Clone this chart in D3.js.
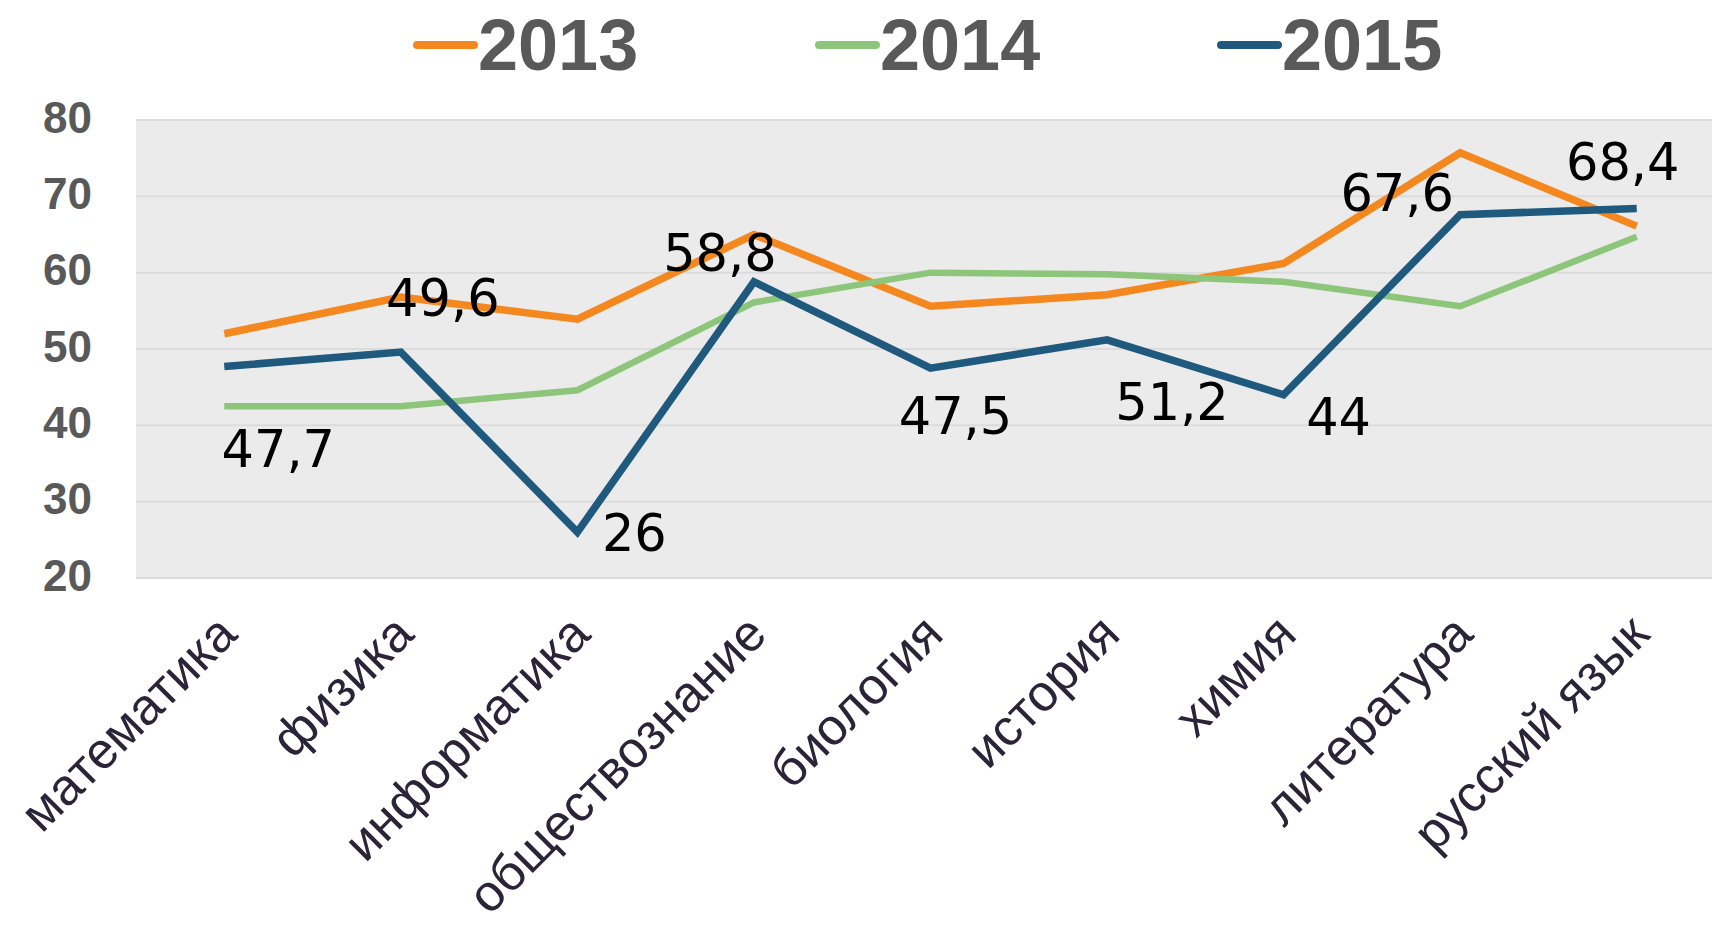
<!DOCTYPE html>
<html>
<head>
<meta charset="utf-8">
<script src="https://cdn.jsdelivr.net/npm/d3@7/dist/d3.min.js"></script>
<style>
	html, body { margin: 0; padding: 0; background: #fff; }
	svg { display: block; }
</style>
</head>
<body>
<svg id="chart"></svg>
<script>
// subjects on the x axis
var subjects = [ 'математика', 'физика', 'информатика', 'обществознание', 'биология', 'история', 'химия', 'литература', 'русский язык' ];
var years    = [ '2013', '2014', '2015' ];
// average score per subject
var v2013    = [ 52.0, 56.8, 53.9, 65.0, 55.6, 57.1, 61.2, 75.7, 66.1 ];
var v2014    = [ 42.5, 42.5, 44.6, 56.1, 60.0, 59.8, 58.8, 55.6, 64.7 ];
var v2015    = [ 47.7, 49.6, 26, 58.8, 47.5, 51.2, 44, 67.6, 68.4 ];
var yTicks   = [ 20, 30, 40, 50, 60, 70, 80 ];

var W = 1712, H = 932;
var CH = {
	  left   : 136
	, right  : 1725
	, top    : 120
	, bottom : 578
	, color  : {
		  '2013' : '#f5871f'
		, '2014' : '#8dc67b'
		, '2015' : '#1f5a7e'
	}
}
// data label nudges (px) for the 2015 series, relative to the point
var labelNudge = [ [ 54, 100 ], [ 42, -36 ], [ 57, 19 ], [ -34, -11 ], [ 25, 66 ], [ 65, 80 ], [ 55, 40 ], [ -63, -4 ], [ -14, -29 ] ];

var series = [
	  { year: '2013', values: v2013, width: 7.5 }
	, { year: '2014', values: v2014, width: 6.5 }
	, { year: '2015', values: v2015, width: 7.5 }
];

var svg = d3.select( '#chart' ).attr( 'width', W ).attr( 'height', H );

var x = d3.scalePoint()
			.domain( subjects )
			.range( [ CH.left, CH.right ] )
			.padding( 0.5 );
var y = d3.scaleLinear()
			.domain( [ 20, 80 ] )
			.range( [ CH.bottom, CH.top ] );

// plot background
svg.append( 'rect' )
	.attr( 'x', CH.left )
	.attr( 'y', CH.top )
	.attr( 'width', CH.right - CH.left )
	.attr( 'height', CH.bottom - CH.top )
	.attr( 'fill', '#ebebeb' );

// grid
svg.append( 'g' )
	.selectAll( 'line' )
	.data( yTicks )
	.join( 'line' )
	.attr( 'x1', CH.left )
	.attr( 'x2', CH.right )
	.attr( 'y1', d => y( d ) )
	.attr( 'y2', d => y( d ) )
	.attr( 'stroke', '#dcdcdc' )
	.attr( 'stroke-width', 2 );

// y axis
var yAxis = svg.append( 'g' )
	.attr( 'transform', 'translate(92,-2)' )
	.call( d3.axisLeft( y ).tickValues( yTicks ).tickSize( 0 ).tickPadding( 0 ) );
yAxis.select( '.domain' ).remove();
yAxis.selectAll( 'text' )
	.attr( 'font-family', '"Liberation Sans", Arial, sans-serif' )
	.attr( 'font-weight', 'bold' )
	.attr( 'font-size', 44 )
	.attr( 'fill', '#595959' );

// x axis labels (rotated)
var xAxis = svg.append( 'g' )
	.attr( 'transform', 'translate(0,' + CH.bottom + ')' )
	.call( d3.axisBottom( x ).tickSize( 0 ).tickPadding( 0 ) );
xAxis.select( '.domain' ).remove();
xAxis.selectAll( 'text' )
	.attr( 'font-family', '"Liberation Sans", Arial, sans-serif' )
	.attr( 'font-size', 51 )
	.attr( 'fill', '#2b2438' )
	.attr( 'text-anchor', 'end' )
	.attr( 'dy', '0.35em' )
	.attr( 'transform', 'translate(2,46) rotate(-45)' );

// lines
var line = d3.line()
	.x( ( d, i ) => x( subjects[ i ] ) )
	.y( d => y( d ) );
svg.append( 'g' )
	.selectAll( 'path' )
	.data( series )
	.join( 'path' )
	.attr( 'd', d => line( d.values ) )
	.attr( 'fill', 'none' )
	.attr( 'stroke', d => CH.color[ d.year ] )
	.attr( 'stroke-width', d => d.width )
	.attr( 'stroke-linejoin', 'miter' );

// data labels for 2015
svg.append( 'g' )
	.selectAll( 'text' )
	.data( v2015 )
	.join( 'text' )
	.attr( 'x', ( d, i ) => x( subjects[ i ] ) + labelNudge[ i ][ 0 ] )
	.attr( 'y', ( d, i ) => y( d ) + labelNudge[ i ][ 1 ] )
	.attr( 'text-anchor', 'middle' )
	.attr( 'font-family', '"DejaVu Sans", sans-serif' )
	.attr( 'font-size', 51 )
	.attr( 'fill', '#000' )
	.text( d => String( d ).replace( '.', ',' ) );

// legend
var legend = svg.append( 'g' )
	.selectAll( 'g' )
	.data( years )
	.join( 'g' )
	.attr( 'transform', ( d, i ) => 'translate(' + ( 417 + i * 402 ) + ',45)' );
legend.append( 'line' )
	.attr( 'x1', 0 )
	.attr( 'x2', 57 )
	.attr( 'stroke', d => CH.color[ d ] )
	.attr( 'stroke-width', 8 )
	.attr( 'stroke-linecap', 'round' );
legend.append( 'text' )
	.attr( 'x', 61 )
	.attr( 'y', 25 )
	.attr( 'font-family', '"Liberation Sans", Arial, sans-serif' )
	.attr( 'font-weight', 'bold' )
	.attr( 'font-size', 72 )
	.attr( 'fill', '#595959' )
	.text( d => d );
</script>
</body>
</html>
